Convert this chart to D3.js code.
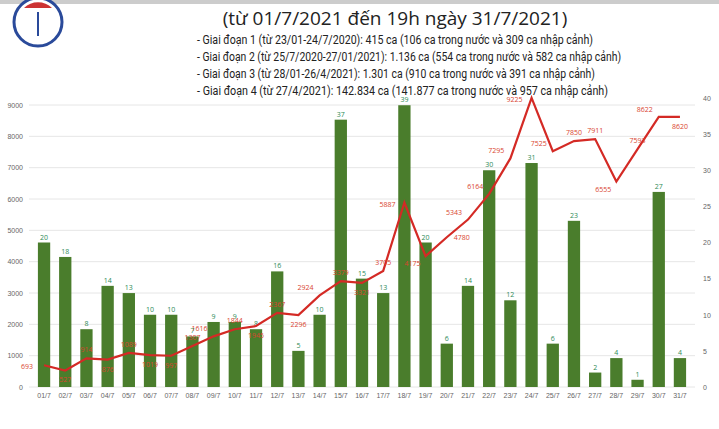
<!DOCTYPE html>
<html><head><meta charset="utf-8">
<script src="https://cdn.jsdelivr.net/npm/d3@7"></script>
<style>body{margin:0;background:#fff;font-family:"Open Sans",sans-serif}</style>
</head><body><svg id="svg" width="719" height="429"></svg>
<script>
const days = d3.range(1, 32).map(d => String(d).padStart(2, '0') + '/7');
const cases = [693,527,914,876,1089,1019,997,1307,1616,1844,1945,2367,2296,2924,3379,3321,3705,5887,4175,4780,5343,6164,7295,9225,7525,7850,7911,6555,7593,8622,8620];
const deaths = [20,18,8,14,13,10,10,7,9,9,8,16,5,10,37,15,13,39,20,6,14,30,12,31,6,23,2,4,1,27,4];
const notes = [
  '- Giai đoạn 1 (từ 23/01-24/7/2020): 415 ca (106 ca trong nước và 309 ca nhập cảnh)',
  '- Giai đoạn 2 (từ 25/7/2020-27/01/2021): 1.136 ca (554 ca trong nước và 582 ca nhập cảnh)',
  '- Giai đoạn 3 (từ 28/01-26/4/2021): 1.301 ca (910 ca trong nước và 391 ca nhập cảnh)',
  '- Giai đoạn 4 (từ 27/4/2021): 142.834 ca (141.877 ca trong nước và 957 ca nhập cảnh)'
];
// where each case label sits relative to its point: a=above, b=below, l=left, al=above-left, bl=below-left, r=right
const labelSide = ['l','b','a','b','a','b','b','a','al','a','b','a','b','al','a','b','a','l','bl','r','al','al','al','l','al','a','a','bl','a','al','b'];

const svg = d3.select('#svg');
svg.append('rect').attr('width', 719).attr('height', 4).attr('fill', '#ccc');

const logo = svg.append('g').attr('transform', 'translate(38,22)');
logo.append('circle').attr('r', 24).attr('fill', '#fff').attr('stroke', '#2a4a9a').attr('stroke-width', 3);
logo.append('path').attr('d', 'M-14,-14 A20,20 0 0 1 14,-14 Z').attr('fill', '#c33');
logo.append('line').attr('y1', -10).attr('y2', 14).attr('stroke', '#2a4a9a').attr('stroke-width', 2);

svg.append('text').attr('x', 395).attr('y', 25).attr('text-anchor', 'middle')
  .attr('font-size', 19).attr('fill', '#222').text('(từ 01/7/2021 đến 19h ngày 31/7/2021)');
svg.selectAll('.note').data(notes).join('text')
  .attr('x', 197).attr('y', (d, i) => 44 + i * 17)
  .attr('font-size', 12).attr('fill', '#222').attr('font-family', 'Liberation Sans Narrow, Roboto, sans-serif')
  .attr('textLength', (d, i) => [396, 424, 398, 411][i]).attr('lengthAdjust', 'spacingAndGlyphs')
  .text(d => d);

const x = d3.scaleBand().domain(days).range([29, 695]).padding(0.42);
const yL = d3.scaleLinear().domain([0, 9000]).range([387, 105]);
const yR = d3.scaleLinear().domain([0, 40]).range([387, 98]);

svg.append('g').selectAll('line').data(yL.ticks(9)).join('line')
  .attr('x1', 29).attr('x2', 695).attr('y1', d => yL(d)).attr('y2', d => yL(d))
  .attr('stroke', '#e6e6e6');

const axL = svg.append('g').attr('transform', 'translate(26,0)')
  .call(d3.axisLeft(yL).ticks(9).tickSize(0).tickFormat(d3.format('d')));
const axR = svg.append('g').attr('transform', 'translate(700,0)')
  .call(d3.axisRight(yR).ticks(8).tickSize(0));
const axB = svg.append('g').attr('transform', 'translate(0,387)')
  .call(d3.axisBottom(x).tickSize(0).tickPadding(6));
[axL, axR, axB].forEach(a => {
  a.select('.domain').remove();
  a.selectAll('text').attr('fill', '#666').attr('font-size', 7);
});

svg.append('g').selectAll('rect').data(deaths).join('rect')
  .attr('x', (d, i) => x(days[i])).attr('width', x.bandwidth())
  .attr('y', d => yR(d)).attr('height', d => 387 - yR(d)).attr('fill', '#4a7d2c');
svg.append('g').selectAll('text').data(deaths).join('text')
  .attr('x', (d, i) => x(days[i]) + x.bandwidth() / 2).attr('y', d => yR(d) - 3)
  .attr('text-anchor', 'middle').attr('font-size', 7).attr('fill', '#2e8b57').text(d => d);

const cx = i => x(days[i]) + x.bandwidth() / 2;
svg.append('path').datum(cases)
  .attr('d', d3.line().x((d, i) => cx(i)).y(d => yL(d)))
  .attr('fill', 'none').attr('stroke', '#d42a25').attr('stroke-width', 2.2);
const off = { a: [0, -6], b: [0, 12], l: [-17, 4], al: [-14, -5], bl: [-13, 10], r: [15, 3] };
svg.append('g').selectAll('text').data(cases).join('text')
  .attr('x', (d, i) => cx(i) + off[labelSide[i]][0])
  .attr('y', (d, i) => yL(d) + off[labelSide[i]][1])
  .attr('text-anchor', 'middle').attr('font-size', 7).attr('fill', '#d9452f').text(d => d);
</script></body></html>
